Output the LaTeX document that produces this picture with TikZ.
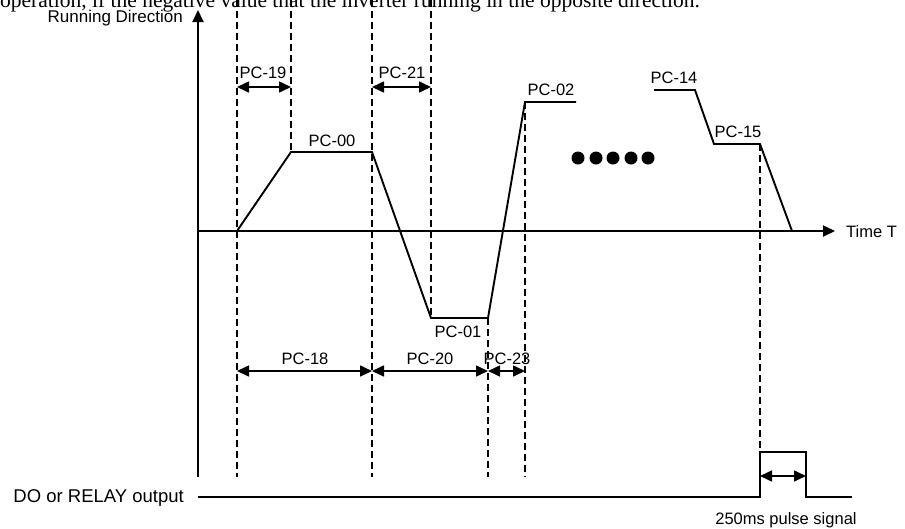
\documentclass[tikz,border=0pt]{standalone}
\usepackage{fontspec}
\setmainfont{Liberation Sans}
\newfontfamily\serifT{Liberation Serif}
\usetikzlibrary{arrows.meta}
\begin{document}
\begin{tikzpicture}[x=1pt,y=-1pt,
  lbl/.style={inner sep=0pt,anchor=base,font=\fontsize{16.5}{19}\selectfont},
  prof/.style={line width=1.9pt,line join=miter},
  guide/.style={line width=1.2pt,dash pattern=on 7pt off 4pt},
  dimarrow/.style={line width=1.6pt,{Triangle[length=12pt,width=11pt]}-{Triangle[length=12pt,width=11pt]}},
  axisarrow/.style={line width=1.9pt,-{Triangle[length=12pt,width=11pt]}},
  dot/.style={circle,fill=black,inner sep=0pt,minimum size=13pt},
]
\useasboundingbox (0,0) rectangle (905,528);
\clip (0,0) rectangle (905,528);
% clipped sentence at the top
\node[inner sep=0pt,anchor=base west,font=\serifT\fontsize{21.5}{24}\selectfont] (top) at (0,7)
  {operation, if the negative value that the inverter running in the opposite direction.};
% axes
\coordinate (o) at (198,231);
\coordinate (ybot) at (198,477);
\coordinate (ytop) at (198,10);
\coordinate (xend) at (835,231);
\draw[axisarrow] (ybot) -- (ytop);
\draw[axisarrow] (o) -- (xend);
\node[lbl,anchor=base east,font=\fontsize{17}{20}\selectfont] (ylab) at (183,22) {Running Direction};
\node[lbl,anchor=base west,font=\fontsize{16.5}{19}\selectfont] (xlab) at (846,237) {Time T};
% profile
\coordinate (p0) at (237,231);
\coordinate (p1) at (291,152);
\coordinate (p2) at (372,152);
\coordinate (p3) at (431,318);
\coordinate (p4) at (488,318);
\coordinate (p5) at (525,102);
\coordinate (p6) at (576,102);
\draw[prof] (p0) -- (p1) -- (p2) -- (p3) -- (p4) -- (p5) -- (p6);
\coordinate (q0) at (654,90);
\coordinate (q1) at (695,90);
\coordinate (q2) at (714,144);
\coordinate (q3) at (760,144);
\coordinate (q4) at (792,231);
\draw[prof] (q0) -- (q1) -- (q2) -- (q3) -- (q4);
% guides
\coordinate (g1t) at (237,0);   \coordinate (g1b) at (237,477);
\coordinate (g2t) at (291,0);
\coordinate (g3t) at (372,0);   \coordinate (g3b) at (372,477);
\coordinate (g4t) at (431,0);
\coordinate (g5b) at (488,477);
\coordinate (g6b) at (525,477);
\coordinate (pulseL) at (760,452);
\draw[guide] (g1t) -- (g1b);
\draw[guide] (g2t) -- (p1);
\draw[guide] (g3t) -- (g3b);
\draw[guide] (g4t) -- (p3);
\draw[guide] (p4) -- (g5b);
\draw[guide] (p5) -- (g6b);
\draw[guide] (q3) -- (pulseL);
% dimension arrows
\coordinate (a19l) at (237,87); \coordinate (a19r) at (291,87);
\coordinate (a21l) at (372,87); \coordinate (a21r) at (431,87);
\draw[dimarrow] (a19l) -- (a19r);
\draw[dimarrow] (a21l) -- (a21r);
\coordinate (b1) at (237,371); \coordinate (b2) at (372,371);
\coordinate (b3) at (488,371); \coordinate (b4) at (525,371);
\draw[dimarrow] (b1) -- (b2);
\draw[dimarrow] (b2) -- (b3);
\draw[dimarrow] (b3) -- (b4);
% labels
\node[lbl] (l19) at (263,78) {PC-19};
\node[lbl] (l21) at (402,78) {PC-21};
\node[lbl] (l00) at (332,146) {PC-00};
\node[lbl] (l01) at (458,337) {PC-01};
\node[lbl] (l02) at (551,95) {PC-02};
\node[lbl] (l14) at (674,83) {PC-14};
\node[lbl] (l15) at (738,137) {PC-15};
\node[lbl] (l18) at (305,364) {PC-18};
\node[lbl] (l20) at (430,364) {PC-20};
\node[lbl] (l23) at (507,364) {PC-23};
% dots
\node[dot] (d1) at (578,158) {};
\node[dot] (d2) at (596,158) {};
\node[dot] (d3) at (613,158) {};
\node[dot] (d4) at (631,158) {};
\node[dot] (d5) at (648,158) {};
% output signal
\node[lbl,anchor=base east,font=\fontsize{18.5}{22}\selectfont] (dolab) at (184,502) {DO or RELAY output};
\coordinate (s0) at (198,497);
\coordinate (s1) at (760,497);
\coordinate (s2) at (806,452);
\coordinate (s3) at (806,497);
\coordinate (s4) at (852,497);
\draw[prof] (s0) -- (s1) -- (pulseL) -- (s2) -- (s3) -- (s4);
\coordinate (pa) at (760,476); \coordinate (pb) at (806,476);
\draw[dimarrow] (pa) -- (pb);
\node[lbl,font=\fontsize{16.5}{19}\selectfont] (plab) at (786,524) {250ms pulse signal};
\end{tikzpicture}
\end{document}
